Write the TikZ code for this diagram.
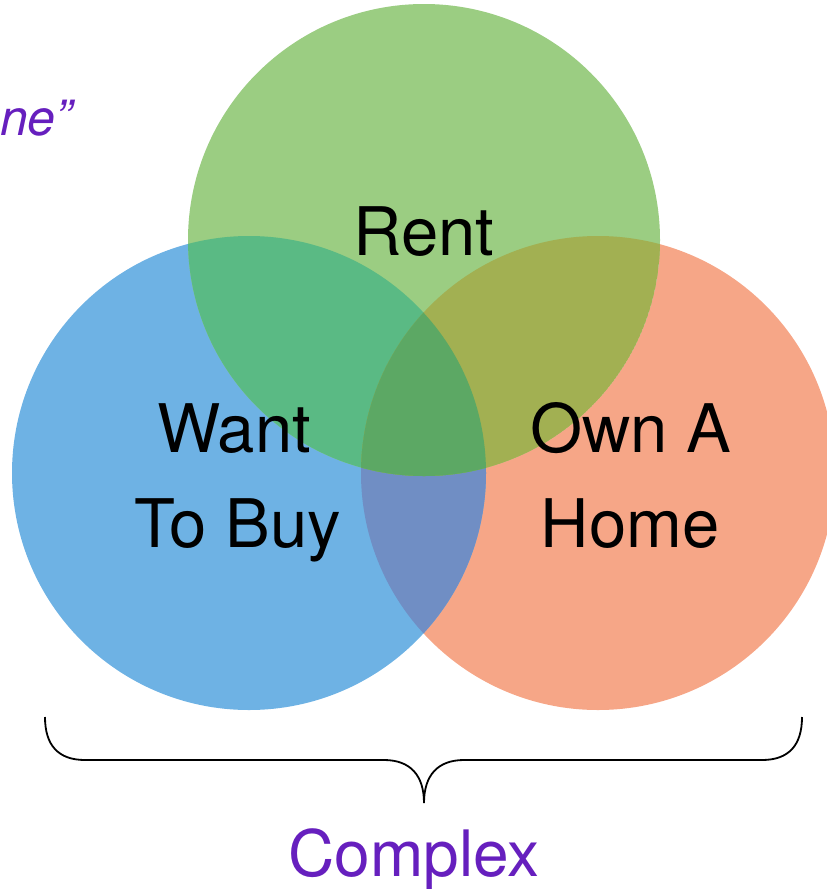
\documentclass[tikz,border=0pt]{standalone}
\usepackage{fontspec}
\setmainfont{TeX Gyre Heros}
\usepackage{tikz}
\definecolor{rentgreen}{RGB}{155,205,130}
\definecolor{buyblue}{RGB}{110,178,228}
\definecolor{ownorange}{RGB}{246,166,135}
\definecolor{rentbuy}{RGB}{90,186,132}
\definecolor{rentown}{RGB}{162,176,82}
\definecolor{buyown}{RGB}{112,142,196}
\definecolor{allthree}{RGB}{92,168,100}
\definecolor{labelpurple}{RGB}{102,31,190}
\tikzset{big/.style={font=\fontsize{67}{80}\selectfont,inner sep=0pt},
  purple label/.style={text=labelpurple,inner sep=0pt}}

\begin{document}
\begin{tikzpicture}[x=1pt,y=-1pt]
\useasboundingbox (0,0) rectangle (827,889);
\coordinate (R) at (424,240);
\coordinate (B) at (249,473);
\coordinate (O) at (598,473);
\fill[ownorange] (O) circle[radius=237];
\fill[buyblue] (B) circle[radius=237];
\fill[rentgreen] (R) circle[radius=236];
\begin{scope}
\clip (B) circle[radius=237];
\fill[buyown] (O) circle[radius=237];
\fill[rentbuy] (R) circle[radius=236];
\clip (O) circle[radius=237];
\fill[allthree] (R) circle[radius=236];
\end{scope}
\begin{scope}
\clip (O) circle[radius=237];
\clip (R) circle[radius=236];
\fill[rentown] (R) circle[radius=236];
\clip (B) circle[radius=237];
\fill[allthree] (R) circle[radius=236];
\end{scope}
% labels
\node[big,anchor=base] (rent) at (424,255) {Rent};
\node[big,anchor=base] (want) at (234,452) {Want};
\node[big,anchor=base] (tobuy) at (238,547) {To Buy};
\node[big,anchor=base] (owna) at (631,452) {Own A};
\node[big,anchor=base] (home) at (630,547) {Home};
\node[purple label,anchor=base west,font=\fontsize{50}{58}\selectfont\itshape] (quote) at (0,135) {ne”};
% brace
\coordinate (bl) at (45,717);
\coordinate (br) at (802,717);
\coordinate (tip) at (424,803);
\draw[line width=1.8pt] (bl) .. controls (45,745) and (58,760) .. (85,760)
  -- (384,760) .. controls (410,760) and (424,775) .. (tip)
  .. controls (424,775) and (438,760) .. (464,760)
  -- (762,760) .. controls (789,760) and (802,745) .. (br);
\node[purple label,anchor=base,font=\fontsize{64}{76}\selectfont] (complex) at (414,876) {Complex};
\end{tikzpicture}
\end{document}
